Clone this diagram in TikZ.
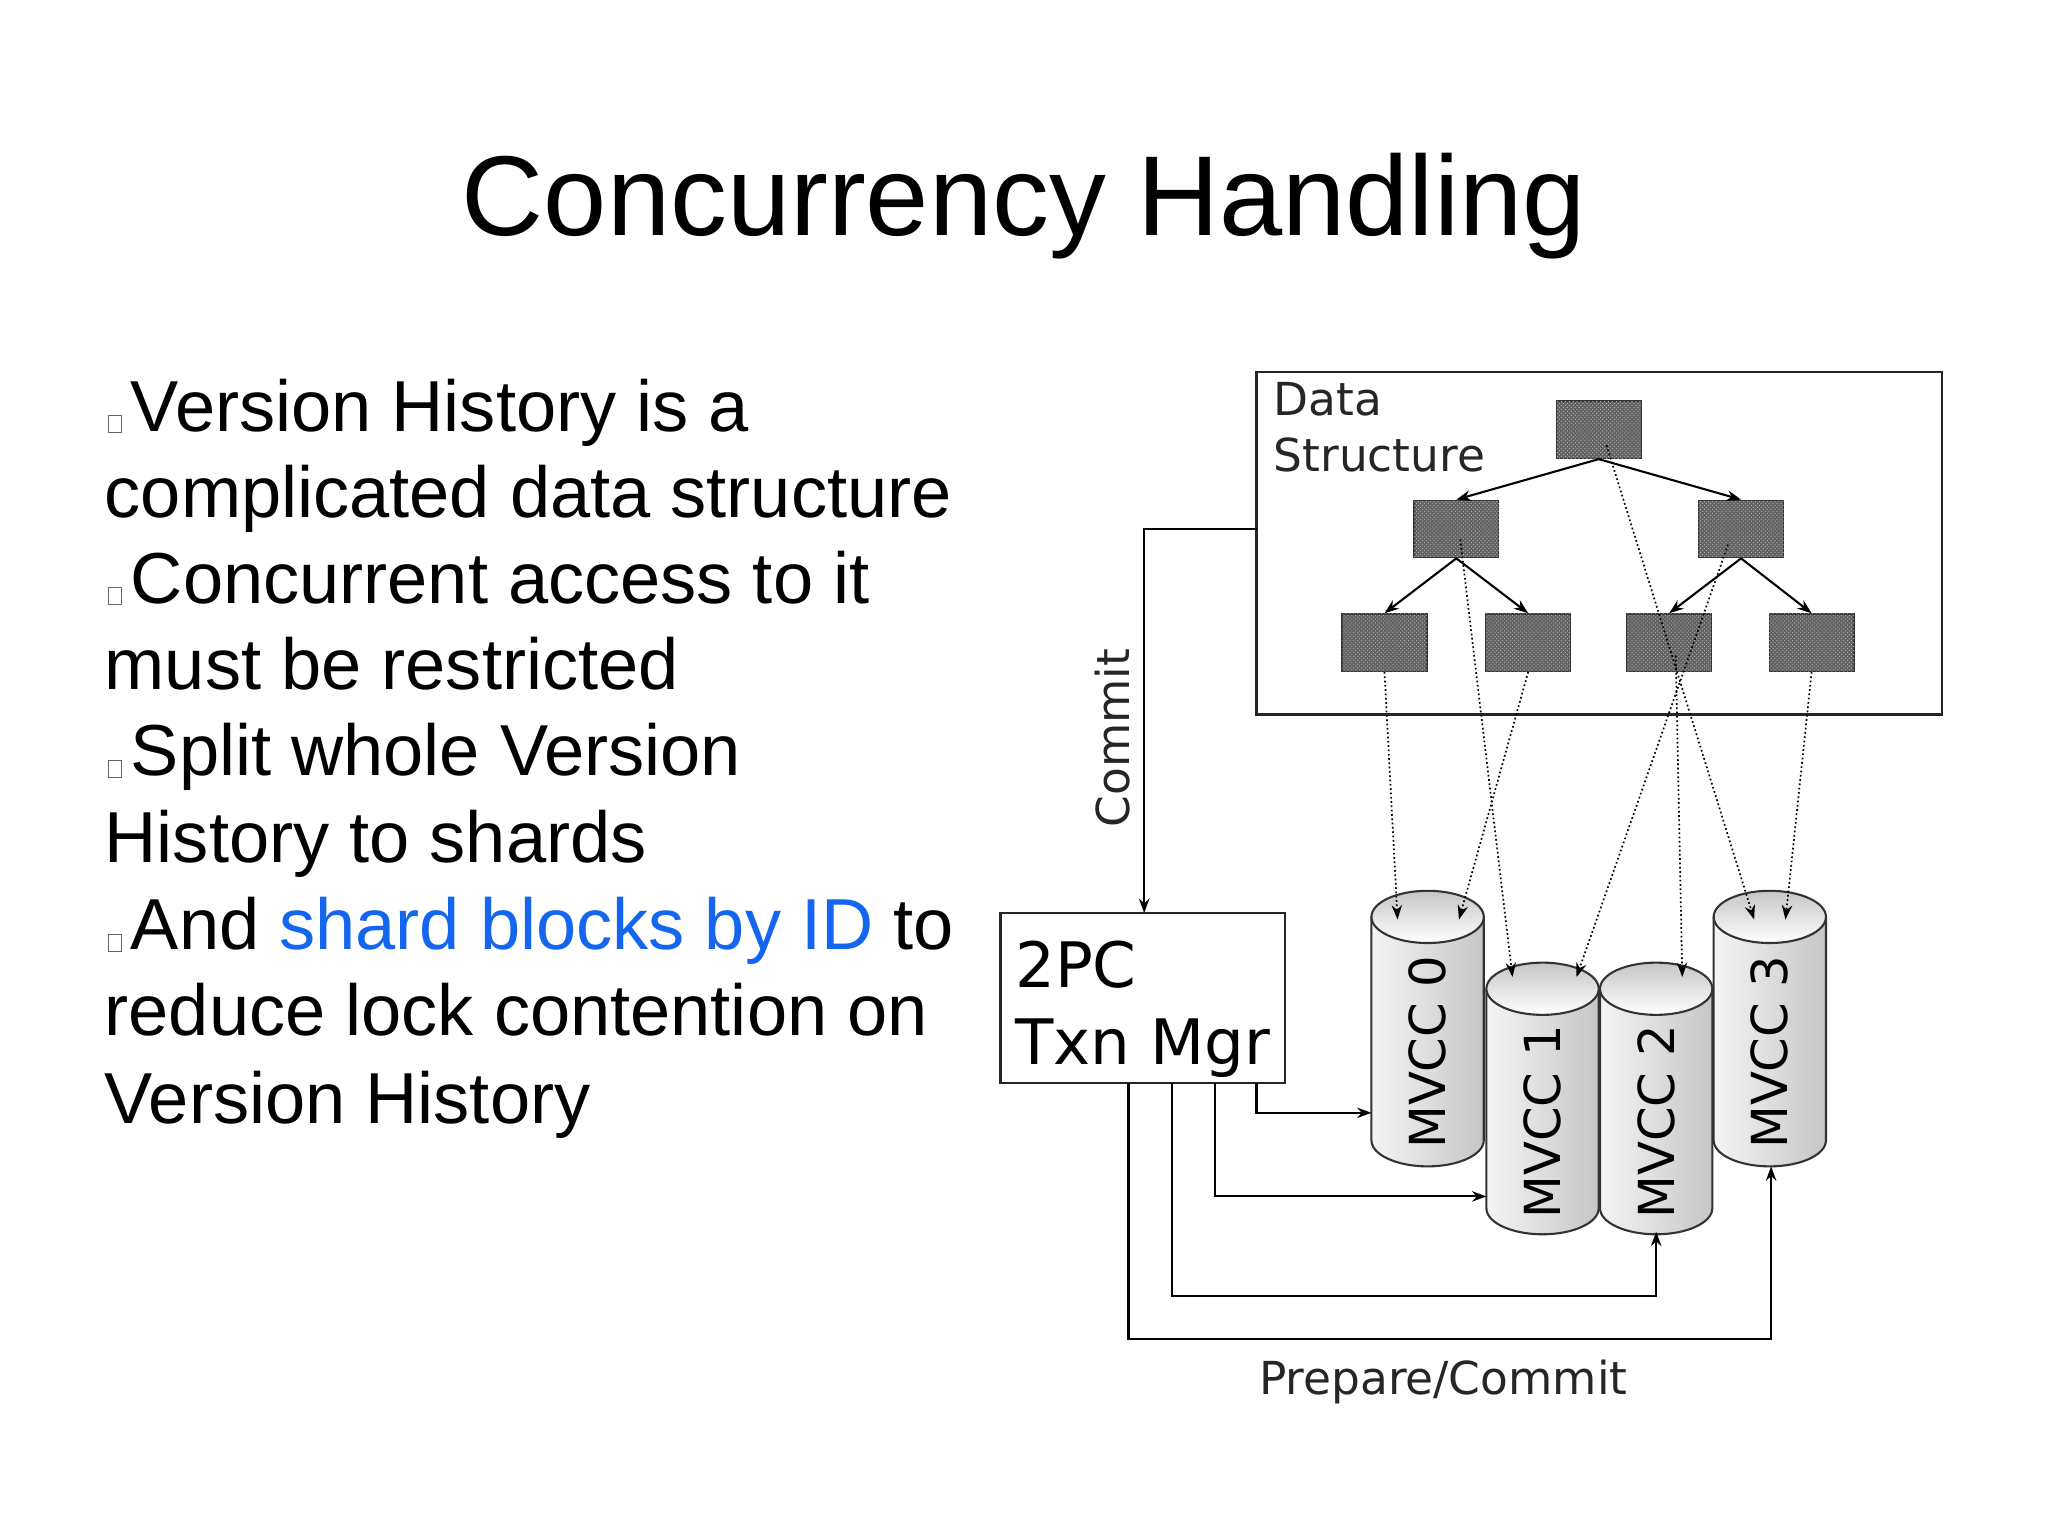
\documentclass[tikz,border=0pt]{standalone}
\usepackage{fontspec}
\setmainfont{Liberation Sans}
\newfontfamily\dv{DejaVu Sans}
\usetikzlibrary{arrows.meta,patterns}
\definecolor{lnk}{RGB}{20,102,238}
\begin{document}
\begin{tikzpicture}[x=1pt,y=-1pt,
 blk/.style={draw=black!80,line width=1pt,fill=black!62,postaction={pattern=crosshatch dots,pattern color=white!70!black}},
 tarr/.style={-{Stealth[length=11pt,width=8pt]},line width=1.6pt},
 darr/.style={-{Stealth[length=11pt,width=8pt]},dotted,line width=1.3pt},
 sarr/.style={-{Stealth[length=11pt,width=8pt]},line width=1.6pt},
 body/.style={anchor=base west,inner sep=0,font=\fontsize{55.3}{60}\selectfont},
 bul/.style={draw=black!60,line width=0.5pt},
 dt/.style={font=\dv\fontsize{34.8}{38}\selectfont,text=black!85,inner sep=0}]
\useasboundingbox (0,0) rectangle (1568,1176);
\fill[white] (0,0) rectangle (1568,1176);
\node[anchor=base,inner sep=0,font=\fontsize{87}{96}\selectfont] (title) at (784,180) {Concurrency Handling};
% body
\foreach \y in {318,450,582,715}{\draw[bul] (83,\y) rectangle (93,\y+13);}
\node[body] (l1) at (100,330) {Version History is a};
\node[body] (l2) at (80,396) {complicated data structure};
\node[body] (l3) at (100,462) {Concurrent access to it};
\node[body] (l4) at (80,528) {must be restricted};
\node[body] (l5) at (100,594) {Split whole Version};
\node[body] (l6) at (80,660) {History to shards};
\node[body] (l7) at (100,727) {And \textcolor{lnk}{shard blocks by ID} to};
\node[body] (l8) at (80,793) {reduce lock contention on};
\node[body] (l9) at (80,860) {Version History};
% data structure box
\draw[line width=1.8pt,black!85] (962,285) rectangle (1487,547);
\coordinate (dsl) at (962,405);
\node[dt,anchor=base west] (d1) at (975,318) {Data};
\node[dt,anchor=base west] (d2) at (975,361) {Structure};
\node[blk,minimum width=65pt,minimum height=44pt,inner sep=0] (r) at (1224,329) {};
\node[blk,minimum width=65pt,minimum height=44pt,inner sep=0] (a) at (1115,405) {};
\node[blk,minimum width=65pt,minimum height=44pt,inner sep=0] (b) at (1333,405) {};
\foreach \n/\x in {c/1060,d/1170,e/1278,f/1387}{\node[blk,minimum width=65pt,minimum height=44pt,inner sep=0] (\n) at (\x,492) {};}
\draw[tarr] (r.south) -- (a.north);
\draw[tarr] (r.south) -- (b.north);
\draw[tarr] (a.south) -- (c.north);
\draw[tarr] (a.south) -- (d.north);
\draw[tarr] (b.south) -- (e.north);
\draw[tarr] (b.south) -- (f.north);
% cylinders
\newcommand{\cyl}[4]{%
 \shade[left color=gray!8,right color=gray!45] (#1-43,#2) -- (#1-43,#3) arc[start angle=180,end angle=0,x radius=43,y radius=20] -- (#1+43,#2) arc[start angle=0,end angle=-180,x radius=43,y radius=20] -- cycle;
 \draw[line width=1.6pt,black!80] (#1-43,#2) -- (#1-43,#3) arc[start angle=180,end angle=0,x radius=43,y radius=20] -- (#1+43,#2);
 \shade[top color=gray!45,bottom color=white] (#1,#2) ellipse[x radius=43,y radius=20];
 \draw[line width=1.6pt,black!80] (#1,#2) ellipse[x radius=43,y radius=20];
 \node[font=\dv\fontsize{38}{42}\selectfont,rotate=90,inner sep=0] (#4) at (#1,{(#2+#3)/2+18}) {MVCC #4};}
\cyl{1093}{702}{873}{0}
\cyl{1181}{757}{925}{1}
\cyl{1268}{757}{925}{2}
\cyl{1355}{702}{873}{3}
\coordinate (m0a) at (1070,704); \coordinate (m0b) at (1117,704);
\coordinate (m1a) at (1158,748); \coordinate (m1b) at (1207,748);
\coordinate (m2a) at (1288,748);
\coordinate (m3a) at (1343,704); \coordinate (m3b) at (1367,704);
\draw[darr] (c.south) -- (m0a);
\draw[darr] (d.south) -- (m0b);
\draw[darr] (a.center) ++(3,8) -- (m1a);
\draw[darr] (r.center) ++(6,12) -- (m3a);
\draw[darr] (b.center) ++(-10,12) -- (m1b);
\draw[darr] (e.center) ++(5,10) -- (m2a);
\draw[darr] (f.south) -- (m3b);
% 2PC
\node[draw,line width=1.6pt,black!85,fill=white,minimum width=218pt,minimum height=130pt,inner sep=0] (tm) at (875,764) {};
\node[font=\dv\fontsize{48}{52}\selectfont,anchor=base west,inner sep=0] (t1) at (777,756) {2PC};
\node[font=\dv\fontsize{48}{52}\selectfont,anchor=base west,inner sep=0] (t2) at (777,815) {Txn Mgr};
\draw[sarr] (dsl) -- (876,405) -- (876,699);
\node[dt,rotate=90] (cm) at (852,565) {Commit};
\coordinate (p0) at (1050,852); \coordinate (p1) at (1138,916);
\coordinate (p2) at (1268,943); \coordinate (p3) at (1356,893);
\draw[sarr] (962,829) -- (962,852) -- (p0);
\draw[sarr] (930,829) -- (930,916) -- (p1);
\draw[sarr] (897,829) -- (897,992) -- (1268,992) -- (p2);
\draw[sarr] (864,829) -- (864,1025) -- (1356,1025) -- (p3);
\node[dt,anchor=base] (pc) at (1105,1068) {Prepare/Commit};
\end{tikzpicture}
\end{document}
